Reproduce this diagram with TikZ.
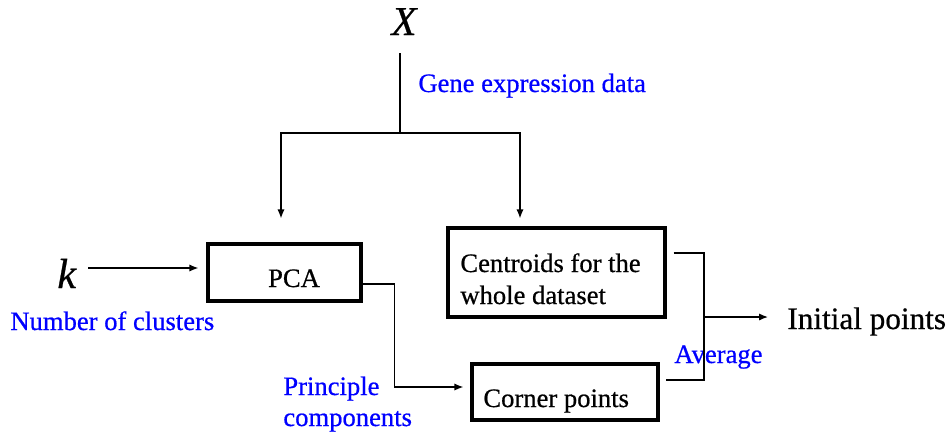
\documentclass[tikz,border=0pt]{standalone}
\usepackage{fontspec}
\setmainfont{Liberation Serif}[UprightFeatures={FakeBold=0.6},ItalicFeatures={FakeBold=0.6}]
\usetikzlibrary{arrows.meta}
\tikzset{
  blk/.style={draw, line width=1.6pt, inner sep=0pt},
  wire/.style={draw, line width=0.65pt},
  arr/.style={wire, -{Latex[length=4.5pt,width=3.6pt]}},
  txt/.style={anchor=base west, inner sep=0pt, font=\fontsize{13.3}{16}\selectfont},
  note/.style={txt, text=blue},
}
\begin{document}
\begin{tikzpicture}[x=0.5pt,y=-0.5pt]
  \useasboundingbox (0,0) rectangle (952,435);

  % processing blocks
  \node[blk, minimum width=76.5pt, minimum height=28.5pt] (pca) at (284.5,272.5) {};
  \node[blk, minimum width=108.5pt, minimum height=44.5pt] (cen) at (556.5,272.5) {};
  \node[blk, minimum width=93pt, minimum height=28pt] (cor) at (565,392) {};

  % block captions
  \node[txt, anchor=base] (pcat) at (294,287) {PCA};
  \node[txt] (cent1) at (460,272) {Centroids for the};
  \node[txt] (cent2) at (460,304) {whole dataset};
  \node[txt] (cort) at (483,407) {Corner points};

  % inputs and output
  \node[anchor=base, inner sep=0pt, font=\fontsize{20.5}{24}\selectfont\itshape] (X) at (404,35) {X};
  \node[anchor=base west, inner sep=0pt, font=\fontsize{21}{24}\selectfont\itshape] (k) at (57,288) {k};
  \node[anchor=base west, inner sep=0pt, font=\fontsize{15.6}{18}\selectfont] (init) at (787,329) {Initial points};

  % blue annotations
  \node[note] (gene) at (418,92) {Gene expression data};
  \node[note] (ncl) at (10,330) {Number of clusters};
  \node[note] (pc1) at (283,395) {Principle};
  \node[note] (pc2) at (283,426) {components};
  \node[note] (avg) at (674,363) {Average};

  % junction points
  \coordinate (xin) at (400,53);
  \coordinate (split) at (400,133);
  \coordinate (kout) at (88,268);
  \coordinate (jmid) at (704,317);

  % data fan-out
  \draw[wire] (xin) -- (split);
  \draw[arr, shorten >=12pt] (split) -| ([xshift=-1.75pt]pca.north);
  \draw[arr, shorten >=4pt] (split) -| ([xshift=-18.25pt]cen.north);

  % number of clusters into PCA
  \draw[arr, shorten >=4pt] (kout) -- (kout -| pca.west);

  % principal components to corner points
  \draw[arr, shorten >=3.5pt] ([yshift=-5.75pt]pca.east) -- ++(16pt,0) |- ([yshift=2.5pt]cor.west);

  % averaging bracket
  \draw[wire] ([xshift=3.5pt,yshift=9.75pt]cen.east) -| (jmid) |- ([xshift=3pt,yshift=6pt]cor.east);
  \draw[arr, shorten >=9.5pt] (jmid) -- (jmid -| init.west);
\end{tikzpicture}
\end{document}
